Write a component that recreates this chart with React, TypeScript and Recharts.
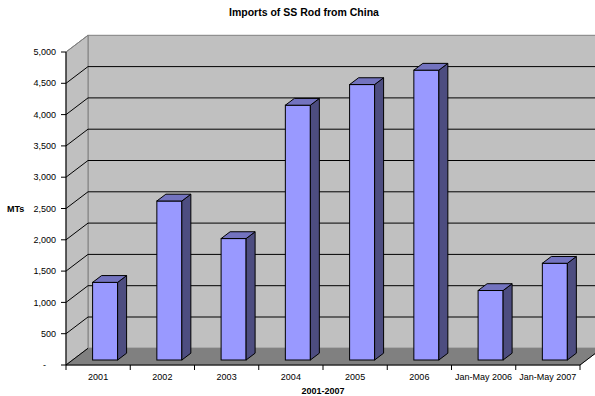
import React from 'react';
import { BarChart, Bar, XAxis, YAxis, CartesianGrid, ReferenceArea } from 'recharts';

// Imports of stainless steel rod from China, metric tonnes
const periods = ['2001', '2002', '2003', '2004', '2005', '2006', 'Jan-May 2006', 'Jan-May 2007'];
const tonnes = [1240, 2540, 1940, 4070, 4400, 4630, 1110, 1545];
const valueTicks = [0, 500, 1000, 1500, 2000, 2500, 3000, 3500, 4000, 4500, 5000];

const data = periods.map((period, i) => ({ period, tonnes: tonnes[i] }));

const FONT = '"Liberation Sans", Arial, Helvetica, sans-serif';

// oblique projection of the floor depth (front edge -> back wall)
const DX = 22;
const DY = 16.7;
// bars stand slightly behind the front edge and have their own depth
const BAR_X = 6.6;
const BAR_Y = 5;
const BAR_DX = 9;
const BAR_DY = 6.8;

const Walls = (p: any) => {
  const { x, y, width, height } = p;
  const b = y + height;
  const r = x + width;
  return (
    <g>
      <rect x={x + DX} y={y - DY} width={width} height={height} fill="#C0C0C0" stroke="#808080" />
      <polygon
        points={`${x},${b} ${x + DX},${b - DY} ${x + DX},${y - DY} ${x},${y}`}
        fill="#C0C0C0"
        stroke="#808080"
      />
      <polygon
        points={`${x},${b} ${r},${b} ${r + DX},${b - DY} ${x + DX},${b - DY}`}
        fill="#808080"
        stroke="#808080"
      />
      <line x1={r} y1={b} x2={r + DX} y2={b - DY} stroke="#000" />
      <line x1={x} y1={b} x2={x + DX} y2={b - DY} stroke="#000" />
    </g>
  );
};

const GridLine = (p: any) => {
  const { x1, y1, x2, index } = p;
  const v = valueTicks[index];
  if (v === 0) return <g key={p.key} />;
  const top = v === valueTicks[valueTicks.length - 1];
  return (
    <g key={p.key}>
      <line x1={x1} y1={y1} x2={x1 + DX} y2={y1 - DY} stroke={top ? '#808080' : '#000'} />
      {!top && <line x1={x1 + DX} y1={y1 - DY} x2={x2 + DX} y2={y1 - DY} stroke="#000" />}
    </g>
  );
};

const Bar3D = (p: any) => {
  const { x, y, width, height } = p;
  if (!height || height <= 0) return <g />;
  const fx = x + BAR_X;
  const fy = y - BAR_Y;
  const r = fx + width;
  const b = fy + height;
  return (
    <g stroke="#000" strokeWidth={1} strokeLinejoin="miter">
      <rect x={fx} y={fy} width={width} height={height} fill="#9999FF" />
      <polygon
        points={`${r},${fy} ${r + BAR_DX},${fy - BAR_DY} ${r + BAR_DX},${b - BAR_DY} ${r},${b}`}
        fill="#4D4D80"
      />
      <polygon
        points={`${fx},${fy} ${fx + BAR_DX},${fy - BAR_DY} ${r + BAR_DX},${fy - BAR_DY} ${r},${fy}`}
        fill="#7373BF"
      />
    </g>
  );
};

const ValueTick = (p: any) => {
  const { x, y, payload } = p;
  const v = payload.value as number;
  const label = v === 0 ? '-' : v.toLocaleString('en-US');
  return (
    <text
      x={v === 0 ? x - 10 : x}
      y={y}
      dy="0.35em"
      textAnchor="end"
      fontSize={9}
      fontFamily={FONT}
      fill="#000"
    >
      {label}
    </text>
  );
};

const PeriodTick = (p: any) => {
  const { x, y, payload, index } = p;
  const half =
    typeof payload.offset === 'number' && payload.offset > 0
      ? payload.offset
      : (p.width || 514) / periods.length / 2;
  return (
    <g>
      <line x1={x + half} y1={y - 5} x2={x + half} y2={y} stroke="#000" />
      {index === 0 && <line x1={x - half} y1={y - 5} x2={x - half} y2={y} stroke="#000" />}
      <text x={x} y={y + 7} dy="0.35em" textAnchor="middle" fontSize={9} fontFamily={FONT} fill="#000">
        {payload.value}
      </text>
    </g>
  );
};

export default function App() {
  return (
    <div style={{ position: 'absolute', left: 0, top: 0, width: 595, height: 396, background: '#fff' }}>
      <div
        style={{
          position: 'absolute',
          left: 104,
          top: 6,
          width: 400,
          textAlign: 'center',
          fontFamily: FONT,
          fontWeight: 'bold',
          fontSize: 10.5,
          lineHeight: '12px',
          color: '#000',
        }}
      >
        Imports of SS Rod from China
      </div>
      <BarChart width={595} height={396} data={data} margin={{ top: 52, right: 15, bottom: 0, left: 0 }}>
        <ReferenceArea y1={0} y2={5000} shape={Walls} ifOverflow="visible" zIndex={-200} />
        <CartesianGrid vertical={false} horizontal={GridLine} />
        <XAxis
          dataKey="period"
          height={31}
          axisLine={{ stroke: '#000' }}
          tickLine={false}
          tickSize={5}
          tickMargin={0}
          interval={0}
          tick={PeriodTick}
          label={{
            value: '2001-2007',
            position: 'insideBottom',
            offset: 2,
            style: { fontWeight: 'bold', fontSize: 9, fontFamily: FONT, fill: '#000' },
          }}
        />
        <YAxis
          width={66}
          domain={[0, 5000]}
          ticks={valueTicks}
          interval={0}
          axisLine={{ stroke: '#000' }}
          tickLine={{ stroke: '#000' }}
          tickSize={5}
          tickMargin={5}
          tick={ValueTick}
          label={{
            value: 'MTs',
            position: 'insideLeft',
            offset: 7,
            style: { fontWeight: 'bold', fontSize: 9, fontFamily: FONT, fill: '#000' },
          }}
        />
        <Bar dataKey="tonnes" barSize={25} shape={Bar3D} isAnimationActive={false} />
      </BarChart>
    </div>
  );
}
